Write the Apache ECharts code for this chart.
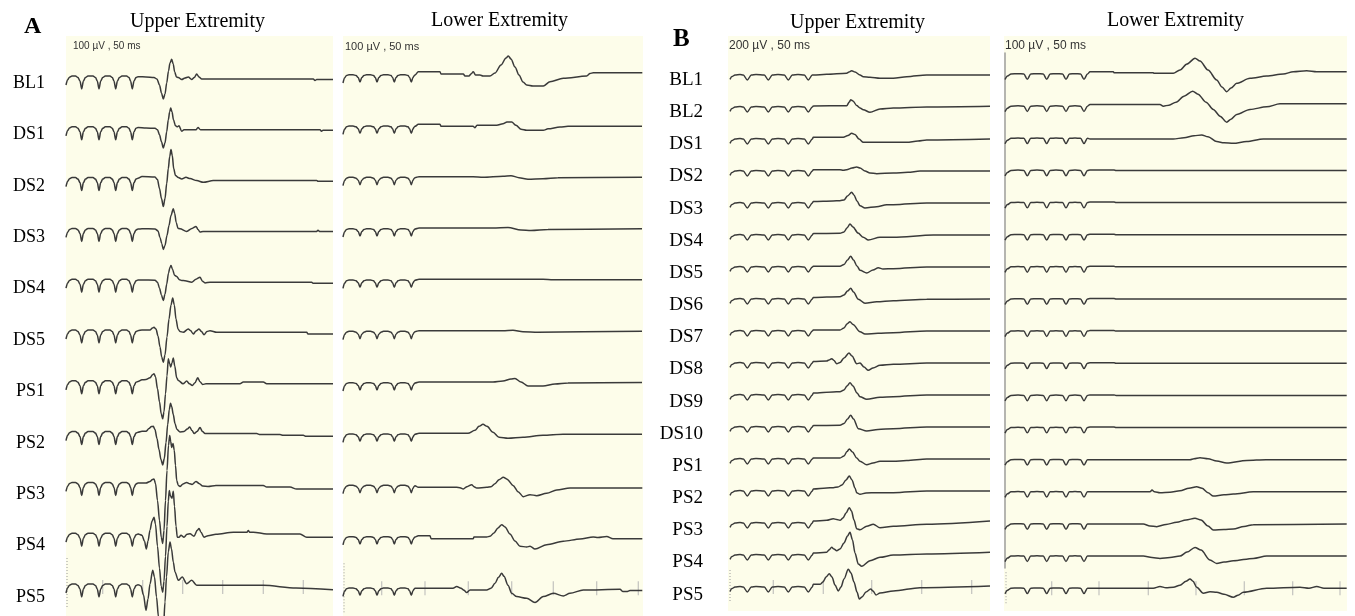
<!DOCTYPE html>
<html><head><meta charset="utf-8">
<script src="https://cdn.jsdelivr.net/npm/echarts@6/dist/echarts.min.js"></script>
<style>html,body{margin:0;padding:0;background:#fff}#c{width:1355px;height:616px}</style>
</head><body><div id="c"></div>
<script>
// ---------- DATA ----------
const labelsA = ['BL1','DS1','DS2','DS3','DS4','DS5','PS1','PS2','PS3','PS4','PS5'];
const labelsB = ['BL1','BL2','DS1','DS2','DS3','DS4','DS5','DS6','DS7','DS8','DS9','DS10','PS1','PS2','PS3','PS4','PS5'];
const panelLetters = ['A','B'];
const panelTitles = ['Upper Extremity','Lower Extremity','Upper Extremity','Lower Extremity'];
const scaleTexts = ['100 µV , 50 ms','100 µV , 50 ms','200 µV , 50 ms','100 µV , 50 ms'];

// stimulus artefact segments [time, amplitude]
const stimAU = [[0,-6],[1.5,-1],[3.5,1.8],[6,3],[9.5,3],[12,1.5],[14,-2],[15.7,-10],[17.4,-2],[19.4,1.5],[22,3],[27,3],[29.5,1.5],[31.3,-2],[33,-10],[34.7,-2],[36.7,1.5],[39.3,3],[44,3],[46.3,1.5],[48,-2],[49.7,-10],[51.4,-2],[53.4,1.5],[56,3],[60.6,3],[63,1.5],[64.6,-2],[66.3,-10],[68,-2],[70,1.5],[72,2.3]];
const stimAL = [[0,-8],[1.5,-3],[3.5,-0.5],[6,0.3],[10,0.3],[13,-0.5],[15.2,-2.5],[17,-7],[18.8,-2.5],[21,-0.5],[23.5,0.3],[27.5,0.3],[30.5,-0.5],[32.3,-2.5],[34,-7],[35.8,-2.5],[38,-0.5],[40.5,0.3],[45,0.3],[48,-0.5],[49.6,-2.5],[51.3,-7],[53,-2.5],[55,-0.5],[57.5,0.3],[62,0.3],[65,-0.5],[66.6,-2.5],[68.3,-7],[70,-2.5],[71,-1]];
const stimBU = [[2,-4.3],[4,-1.5],[7,0],[12,0.5],[15.3,0],[19.3,-5],[23.3,0],[28,0.5],[36.3,0],[40.3,-5],[44.3,0],[50,0.5],[56.3,0],[60.3,-5],[64.3,0],[70,0.5],[76.3,0],[80.3,-5],[84.3,0]];
const stimBL = [[1,-5.5],[3.5,-2],[7,0],[14,0.3],[19.8,0],[23.3,-5.3],[26.8,0],[33,0.3],[39.2,0],[42.7,-5.3],[46.2,0],[52,0.3],[58.5,0],[62,-5.3],[65.5,0],[71,0.3],[76.5,0],[80,-5.3],[83.5,0]];

// evoked responses, one list per row (order = labels)
const wavesAU = [
 [[73,2.3],[80,2],[88,1.5],[91,0],[93.5,-6],[95.5,-14],[97.3,-20],[99,-15],[100.7,-4],[102.5,8],[104,16],[105.7,19.7],[107.2,15],[108.7,7],[110.5,2],[112.3,1.5],[115.7,-0.5],[119,1],[122.3,2],[125.7,-0.5],[128.3,1.5],[130.7,5],[133,2],[135.7,0],[247.3,0],[249,-1.5],[250.7,-0.5],[267,-0.5]],
 [[80,1.7],[89,1.5],[91.5,0],[93.5,-5],[95.5,-12],[97.3,-18.3],[99,-13],[100.7,-2],[102.3,10],[103.7,18],[104.7,21.7],[106,18],[107.5,10],[109.5,4],[111.5,3],[113,4],[115.7,-1.5],[118,0],[130,0],[132,2.3],[134.5,0],[254,0],[255.5,-1.5],[257,-0.5],[267,-0.5]],
 [[76,4],[89,3.5],[91.5,1],[93.5,-8],[95.5,-18],[97.3,-26],[99,-18],[100.7,-3],[102.3,12],[103.7,24],[105,31],[106.3,25],[107.7,12],[109.5,5],[112.3,3],[115.7,1.7],[120,3.3],[124,2],[130.7,0],[137.3,-1.7],[147.3,0],[250.7,0],[252,-0.7],[267,-0.7]],
 [[76,2.7],[89,2.5],[92,0.5],[94,-6],[95.7,-12],[97.3,-18],[99,-14],[101,-4],[103,6],[105,16],[107.3,22.7],[108.7,18],[110.2,9],[112,3],[114,2.7],[120.7,0],[126,3],[130,5],[132,2],[134,-0.7],[137,0],[250.7,0],[252,1.2],[253.5,0],[267,0]],
 [[76,2.3],[89,2],[91.5,0],[93.5,-6],[95.5,-13],[97.3,-18.3],[99,-12],[100.7,-2],[102.5,9],[104,15],[105,16.7],[106.5,13],[108.5,7],[110.7,5.7],[113.5,2.5],[115.7,1.7],[119,1.5],[125.7,0],[130,3],[134,5],[136.5,1],[139,-0.7],[144,0],[245.7,0],[247,-1],[267,-1]],
 [[76,3],[84,3],[86.5,5],[88,5.7],[90,4],[92,-3],[94,-14],[95.7,-24],[97.3,-29.3],[99,-22],[101,-4],[103,14],[105,28],[106.7,35],[108.3,28],[110,14],[112,4],[114,1.5],[117.3,0.7],[122.3,4],[124.5,2.5],[127.3,-1],[130,2],[133,4],[135.5,1.5],[138,-1.7],[141,1.5],[144,2.3],[150.7,0.7],[240.7,0.7],[242,-1],[267,-1]],
 [[76,4],[80,4.3],[84,6],[86.5,9],[88,10],[89.5,7],[91.5,-5],[93.5,-18],[95.2,-30],[96.7,-35],[98,-28],[99.5,-10],[101,8],[102.3,25],[103.7,20],[104.7,16.7],[106,21],[107.3,25.7],[108.7,18],[110.7,6],[112.3,3.3],[117,0],[120.7,2.7],[123.5,0],[126.3,-1.7],[129,1],[131.7,6],[134,2],[136.7,-0.7],[140,0],[174,0],[177.3,1.7],[197.3,1.7],[200.7,0],[267,0]],
 [[76,3.3],[80,3.3],[83,6],[85.5,8],[87.3,8.3],[89,5],[91,-4],[93,-15],[95,-25],[96.7,-30.3],[98.3,-24],[100,-8],[101.7,10],[103.3,25],[104.5,31.3],[105.7,28],[107.3,20],[109,11],[111,5],[114,2.7],[118,3],[121.3,5.5],[123.7,7.7],[126,4],[128.3,1],[131,3],[134,7],[136.5,3],[139,1],[147.3,1],[190.7,1],[194,0],[214,0],[217.3,-0.7],[237.3,-0.7],[240,-1.7],[267,-1.7]],
 [[76,2.3],[80,2.3],[84,4],[86.5,6],[88,6.3],[89.5,2],[91.5,-15],[93.5,-35],[95.3,-52],[96.7,-58],[98,-45],[99.5,-15],[101,15],[102.5,40],[103.7,50],[104.7,44],[105.7,38],[107,42],[108.3,35],[109.5,20],[110.7,5],[112.3,0],[114,-1],[117,1.5],[120.7,3],[123.7,1.7],[126,1],[130,4],[133,2],[136.7,-0.7],[142,-1],[150,0],[197.3,0],[200.7,-1.7],[224,-1.7],[230.7,-3.7],[267,-3.7]],
 [[73,2],[76,1],[78.5,-5],[80.3,-12.7],[82,-5],[84,6],[86,15],[88,19],[89.5,12],[91.5,-10],[93.5,-32],[95.2,-50],[96.7,-56],[98,-45],[99.5,-20],[101,10],[102.3,35],[103.3,45.6],[104.5,40],[106,38],[107.3,45],[108.5,30],[110,10],[111.3,-1],[113,-1],[115,1],[118,-1],[121,2],[124,2.5],[128,0],[131.3,6],[133,7.7],[135,4],[138,-1],[142,0.5],[150,2],[167.3,4],[181,4],[182.3,5.7],[183.7,4],[187.3,4],[200.7,2.3],[234,2.3],[240.7,-1],[267,-1]],
 [[73,2],[75,1],[77.5,-8],[80,-23.3],[82,-12],[84,3],[86.7,16.7],[88.5,10],[90.5,-10],[92.5,-30],[94.5,-45],[96,-50],[97.5,-40],[99,-15],[100.5,10],[102.3,35],[104,45],[105.5,38],[107.3,25],[109,15],[112.3,6.7],[116.3,10],[120.7,3.3],[125.7,6.7],[130.7,1.7],[197.3,1.7],[230,-1],[267,-2.7]]
];
const wavesAL = [
 [[72,0],[75.3,3.3],[97,3.3],[98,1],[120.3,1],[122,-1],[126,-1],[128,1],[130.3,3.3],[132.5,0],[137,0],[140,-1],[147,-1],[152,2],[158,10],[163,17],[165.3,19],[168,16],[172,8],[176,0],[180,-7],[183.7,-10],[190,-11],[200.3,-11],[207,-6.7],[220.3,-3.3],[243.7,-1],[247,1.5],[250.3,2.3],[299.3,2.3]],
 [[72,0],[75.3,2],[97,2],[98,0],[130,0],[132,-1.3],[134,1],[153.7,1],[160,2.5],[164,4.3],[168.7,4.3],[173,1],[178,-3],[183.7,-4],[200.3,-4],[205,-2.5],[217,-0.7],[225,0],[299,0]],
 [[72,0],[76,1],[130,1],[140,0.5],[160,1.5],[168,2],[176,0],[185,-1.5],[200,-1],[215,0],[299,0.5]],
 [[72,0],[76,1],[150,1],[165,1.5],[178,-1],[188,-1.5],[205,-0.5],[299,0.3]],
 [[72,0],[76,1],[200,1],[210,0.5],[299,0.5]],
 [[72,0],[76,1],[160,1],[170,1.5],[180,0],[195,-0.5],[299,0.5]],
 [[72,0],[76,1],[150,1],[160,2],[168,4],[172,4.5],[178,1],[185,-3],[200,-3],[212,-1],[225,0],[299,0.5]],
 [[72,0],[76,1],[125,1],[132,4],[136,8],[140,10],[144,8],[150,2],[156,-3],[165,-4],[180,-3],[200,-1],[220,0],[299,0]],
 [[72,0],[75.3,-1.7],[113.7,-1.7],[117,-2],[120.3,-3.3],[124,-1],[128.7,1],[131,-1],[133.7,-2.3],[143.7,-1.7],[148,-1],[152,2],[156,6],[160.3,8.3],[164,6.5],[170.3,0],[175,-6],[180.3,-11],[187,-9],[193.7,-10],[203.7,-7.7],[213.7,-4.3],[227,-2.3],[299.3,-2.3]],
 [[72,0],[75.3,1.3],[87,1.3],[88,-1.7],[130.3,-1.7],[131,0],[143.7,0],[147,0.7],[151,4],[155,9],[158.7,12.3],[162,10],[167,3],[172,-4],[177,-9.3],[183.7,-10],[187,-9.3],[192,-12],[203.7,-7.7],[220.3,-4.3],[237,-2],[250.3,0],[255,-0.5],[263.7,0.5],[270,-1.7],[299.3,-1.7]],
 [[72,0],[110,0],[113.7,1.7],[118,0],[121,-2],[123.7,-4.3],[127,-1.7],[143.7,-1.7],[148,0],[152,5],[155.5,11],[158.7,15],[161,12],[165,3],[168.7,-5],[173.7,-8.3],[183.7,-10],[192,-14.3],[200.3,-8.3],[210.3,-5],[220.3,-7.7],[227,-5],[240.3,-1.7],[277,-1],[280,-3.3],[283.7,-3.3],[287,-2.3],[299.3,-2.3]]
];
const wavesBU = [
 [[85.3,0],[98.7,0.7],[118.7,1.7],[121,3],[123.7,4.3],[127,3],[132,0],[135.3,-1.7],[142,-2.3],[152,-3.3],[165.3,-3.3],[178.7,-1.7],[198.7,0],[262,0]],
 [[85.3,1],[118.7,1.3],[121.3,5],[122.7,7.3],[125,6],[128.7,1.5],[132,-1],[135.3,-2.7],[142,-5.3],[152,-2],[165.3,-1],[198.7,0],[262,0.7]],
 [[85.3,1.7],[115.3,1.7],[120,3.5],[123.7,5.7],[127,4.5],[131,0],[135.3,-3.3],[145.3,-3.3],[178.7,-3.3],[190,-2],[198.7,-1],[262,0]],
 [[85.3,1.3],[112,1.3],[115.3,0.7],[118.7,1.3],[124,3],[128.7,4],[132,3],[137,0],[142,-2],[148.7,-2.7],[165.3,-2],[180,-1.3],[192,0],[262,0]],
 [[85.3,1.5],[105,2],[112,2.3],[116,3],[119.5,7],[123.7,10.7],[126,8],[129,2],[132,-2.7],[137,-5],[148.7,-3.7],[158.7,-1.7],[165.3,-1.7],[198.7,0],[262,0]],
 [[85.3,1.5],[112,1.7],[116,3],[119,7],[122,11],[125,8],[130,2],[135.3,-2.3],[140.3,-5],[152,-2.3],[165.3,-2.3],[205.3,0],[262,0]],
 [[85.3,0.7],[112,0.7],[116,2.5],[119.5,7],[122.7,10.7],[125.5,7],[129,1],[132,-3.3],[138.7,-6],[145,-3],[150.3,-0.7],[155,-2],[165.3,-1.7],[198.7,0],[262,0]],
 [[85.3,1.5],[112,2.3],[116,4],[119.5,8],[122.7,10.7],[125.5,7],[130.3,-0.3],[137,-4.3],[148.7,-2.7],[165.3,-1.7],[198.7,-0.3],[262,0]],
 [[85.3,1],[112,1],[116,3],[119,7],[122,9.3],[125,6.5],[132,-0.7],[137,-3],[150,-2.3],[165.3,-1.7],[198.7,0],[262,0]],
 [[85.3,1.5],[98.7,2],[101,3],[103.7,4.3],[106,2.5],[108.7,-0.7],[112,0.5],[116,5],[121,10],[124,7],[128.7,-0.7],[132,0],[136,-4],[140.3,-7.3],[145,-5],[152,-2.3],[165.3,-1.3],[198.7,0],[262,0]],
 [[85.3,2],[105,3],[112,3.3],[116,5],[119,9],[122,12.3],[125,9],[129,2],[132,-1.7],[138.7,-4.3],[152,-2.3],[165.3,-1.7],[198.7,0],[262,0]],
 [[85.3,1.5],[112,1.7],[116,3.5],[119.5,8],[122.7,11.7],[125.5,8],[130.3,-1.7],[138.7,-4],[150,-2.5],[165.3,-1.7],[198.7,0],[262,0]],
 [[85.3,1],[112,1],[116,3],[119,7.5],[121.3,10],[124.5,7],[128.7,1],[132,-2.3],[138.7,-5.7],[145,-4],[152,-2.3],[165.3,-2.3],[178.7,-1.5],[198.7,0],[262,0]],
 [[85.3,2],[98.7,3],[105.3,3.3],[110,4],[114,6],[118,11],[121.3,15],[124,11],[127,3],[128.7,-1.7],[132,-3.3],[138,-2],[148.7,-1.7],[165.3,-1.7],[198.7,0],[262,0]],
 [[85.3,2],[98.7,2.7],[105.3,4.3],[108.7,3.5],[112,2.7],[115,5],[118,10],[121.3,15.3],[123.5,12],[126,3],[128.7,-5.7],[132,-6.7],[138.7,-3.3],[145.3,-1.3],[152,-4.7],[165.3,-3.3],[198.7,-1.3],[262,2]],
 [[85.3,2],[98.7,2.7],[101,5],[103.7,7.7],[106,6],[108.7,4.3],[112,6],[116,12],[119.5,19],[122,22.7],[124.5,15],[127,2],[130.3,-9],[133.7,-11.3],[142,-5.7],[152,-2.3],[165.3,0],[198.7,1],[262,2.7]],
 [[85.3,2.7],[92,2.7],[95,5],[98,10],[101.3,13.3],[104,10],[107,2],[110.3,-4],[113,0],[116,8],[120.3,17.7],[123,14],[126,5],[129,-5],[131.3,-12],[134,-10],[138,-5],[142.7,-2],[145,-4],[148,-8],[152,-6],[165.3,-4],[192,-0.7],[262,1]]
];
const wavesBL = [
 [[86,2.3],[109.3,2.3],[110,1.3],[149.3,1.3],[150,0.7],[169.3,0.7],[176,4],[183,10],[191,15.7],[196,13],[204,4],[212.7,-6],[218,-13],[222.7,-17.7],[227,-14],[232.7,-9.3],[246,-4.3],[262.7,-2],[279.3,0],[289.3,2.3],[302.7,3.3],[312.7,2.3],[342.7,2.3]],
 [[86,1.7],[156,1.7],[159.3,0],[165,1],[172,4],[180,10],[188.7,15],[194,12],[202,4],[209.3,-3.3],[216,-10],[222.7,-16],[227,-13],[232.7,-8.3],[246,-3.3],[262.7,-0.7],[276,2.3],[342.7,2.3]],
 [[86,-0.7],[169.3,-0.7],[180,0.5],[190,2.5],[197.7,3.3],[204,1.5],[212.7,-3.3],[220,-4.5],[229.3,-5],[242.7,-3.3],[259.3,-0.7],[342.7,-0.7]],
 [[86,0.5],[110,0.5],[112,0],[342.7,0]],
 [[86,0.5],[110,0.5],[112,0],[342.7,0]],
 [[86,0.5],[110,0.5],[112,0],[342.7,0]],
 [[86,0.5],[110,0.5],[112,0],[342.7,0]],
 [[86,0.5],[110,0.5],[112,0],[342.7,0]],
 [[86,0.5],[110,0.5],[112,0],[342.7,0]],
 [[86,0.5],[110,0.5],[112,0],[342.7,0]],
 [[86,0.5],[110,0.5],[112,0],[342.7,0]],
 [[86,0.5],[110,0.5],[112,0],[342.7,0]],
 [[86,0],[186,0],[190,1],[196,2],[204,1],[212.7,-1.3],[222.7,-3.3],[242.7,-0.7],[262,0],[342.7,0]],
 [[86,0],[146,0],[148,1.7],[150.5,0],[156,-1],[166,-0.5],[176,1],[185,3.5],[192.7,5],[198,3.5],[204,-1],[209.3,-4.3],[220,-3],[229.3,-2.3],[249.3,0],[342.7,0]],
 [[86,0],[139.3,0],[146,-2],[152.7,-2.7],[162,-0.5],[172.7,1.7],[182,4],[191,5.7],[197,4],[204,-2],[209.3,-6],[220,-5.5],[229.3,-5],[240,-2.5],[249.3,-0.7],[342.7,0]],
 [[86,0],[139.3,0],[148,-1.5],[156,-2.3],[166,-1.5],[176,0],[183,4],[191,8.7],[197,6],[206,-4],[212.7,-7.3],[220,-6],[229.3,-4.7],[249.3,-2.3],[262.7,0],[342.7,0]],
 [[86,0],[149.3,0],[156,1.7],[162,0.5],[169.3,1],[176,3],[182,7],[186,9.3],[189,7],[192.7,1],[199.3,-5],[206,-3.5],[212.7,-4],[220,-6],[229.3,-9],[234,-7],[239.3,-4],[262.7,0],[296,1],[305,0],[312.7,1.7],[320,0],[342.7,0]]
];

// cursor tick marks on the last row, and the dotted calibration marks
const ticksAU = [36.7, 76.7, 116.7, 156.7, 197.3, 237.3];
const ticksAL = [38.7, 82, 125.3, 168.7, 210.3, 253.7, 295.3];
const ticksBU = [45.3, 95.3, 143.7, 193.7, 243.7];
const ticksBL = [47.7, 95, 144.3, 192, 240.3, 288.7, 336];
const calibAU = [[1,29],[1,-20]];
const calibAL = [[1,25],[1,-25]];
const calibBU = [[2,17],[2,-16]];
const calibBL = [[2,16],[2,-15]];

// ---------- LAYOUT ----------
const BG = '#fdfdea', INK = '#3a3a3a';
const panels = [
 {labels:labelsA, stim:stimAU, waves:wavesAU, ticks:ticksAU, calib:calibAU, left:66, width:267, top:36, bottomPx:616, b0:79, step:50.8, showLabels:true, lab0:83, labStep:51.4, labSize:18, labMargin:21},
 {labels:labelsA, stim:stimAL, waves:wavesAL, ticks:ticksAL, calib:calibAL, left:343, width:300, top:36, bottomPx:616, b0:75, step:51.33, showLabels:false},
 {labels:labelsB, stim:stimBU, waves:wavesBU, ticks:ticksBU, calib:calibBU, left:728, width:262, top:36, bottomPx:611, b0:75, step:32, showLabels:true, lab0:80, labStep:32.16, labSize:19, labMargin:25},
 {labels:labelsB, stim:stimBL, waves:wavesBL, ticks:ticksBL, calib:calibBL, left:1004, width:343, top:36, bottomPx:611, b0:74, step:32.14, showLabels:false}
];

const grids = [], xAxes = [], yAxes = [], series = [];
panels.forEach((p, gi) => {
  const N = p.labels.length;
  const bLast = p.b0 + p.step * (N - 1);
  grids.push({left:p.left, top:p.top, width:p.width, height:p.bottomPx - p.top, show:true, backgroundColor:BG, borderWidth:0, containLabel:false, outerBoundsMode:'none'});
  xAxes.push({type:'value', gridIndex:gi, min:0, max:p.width, show:false});
  const labVals = p.showLabels ? p.labels.map((_, i) => +(bLast - (p.lab0 + p.labStep * i)).toFixed(3)) : [];
  yAxes.push({
    type:'value', gridIndex:gi, min:-(p.bottomPx - bLast), max:bLast - p.top,
    axisLine:{show:false}, axisTick:{show:false}, splitLine:{show:false},
    axisLabel:{
      show:p.showLabels, customValues:labVals,
      formatter:(v) => { const k = labVals.findIndex(x => Math.abs(x - v) < 0.01); return k >= 0 ? p.labels[k] : ''; },
      fontFamily:'Liberation Serif', fontSize:p.labSize || 18, color:'#000', margin:p.labMargin || 20
    }
  });
  p.waves.forEach((w, i) => {
    const off = (N - 1 - i) * p.step;
    series.push({
      type:'line', name:p.labels[i], xAxisIndex:gi, yAxisIndex:gi,
      data:p.stim.concat(w).map(([t, v]) => [t, off + v]),
      symbol:'none', showSymbol:false, smooth:0.3, smoothMonotone:'x', clip:false, silent:true,
      lineStyle:{color:INK, width:1.5}, z:3, animation:false
    });
  });
  series.push({
    type:'scatter', xAxisIndex:gi, yAxisIndex:gi, data:p.ticks.map(t => [t, 0]),
    symbol:'rect', symbolSize:[1.2, 14], itemStyle:{color:'#b4b4b4'}, silent:true, z:2, animation:false
  });
  series.push({
    type:'line', xAxisIndex:gi, yAxisIndex:gi, data:p.calib, symbol:'none', silent:true,
    lineStyle:{color:'#9a9a9a', width:1, type:[1,2]}, z:2, animation:false
  });
});
// vertical rule at the left of the B lower-extremity panel
grids.push({left:1004.5, top:53, width:1, height:515, show:false, outerBoundsMode:'none'});
xAxes.push({type:'value', gridIndex:4, min:0, max:1, show:false});
yAxes.push({type:'value', gridIndex:4, min:0, max:1, axisLine:{show:true, lineStyle:{color:'#9c9c9c', width:1.5}}, axisTick:{show:false}, axisLabel:{show:false}, splitLine:{show:false}});

const serif = 'Liberation Serif', sans = 'Liberation Sans';
const graphic = [
  {type:'text', x:24, y:27, style:{text:panelLetters[0], fontFamily:serif, fontWeight:'bold', fontSize:24, fill:'#000', verticalAlign:'middle'}},
  {type:'text', x:673, y:39.5, style:{text:panelLetters[1], fontFamily:serif, fontWeight:'bold', fontSize:25, fill:'#000', verticalAlign:'middle'}},
  {type:'text', x:197.5, y:21.5, style:{text:panelTitles[0], fontFamily:serif, fontSize:20, fill:'#000', align:'center', verticalAlign:'middle'}},
  {type:'text', x:499.5, y:21, style:{text:panelTitles[1], fontFamily:serif, fontSize:20, fill:'#000', align:'center', verticalAlign:'middle'}},
  {type:'text', x:857.5, y:22.5, style:{text:panelTitles[2], fontFamily:serif, fontSize:20, fill:'#000', align:'center', verticalAlign:'middle'}},
  {type:'text', x:1175.5, y:21, style:{text:panelTitles[3], fontFamily:serif, fontSize:20, fill:'#000', align:'center', verticalAlign:'middle'}},
  {type:'text', x:73, y:46.5, z:10, style:{text:scaleTexts[0], fontFamily:sans, fontSize:10, fill:'#333', verticalAlign:'middle'}},
  {type:'text', x:345, y:47, z:10, style:{text:scaleTexts[1], fontFamily:sans, fontSize:11, fill:'#333', verticalAlign:'middle'}},
  {type:'text', x:729, y:46, z:10, style:{text:scaleTexts[2], fontFamily:sans, fontSize:12, fill:'#333', verticalAlign:'middle'}},
  {type:'text', x:1005, y:45.5, z:10, style:{text:scaleTexts[3], fontFamily:sans, fontSize:12, fill:'#333', verticalAlign:'middle'}}
];

const chart = echarts.init(document.getElementById('c'), null, {renderer:'canvas'});
chart.setOption({
  animation:false, backgroundColor:'#fff',
  grid:grids, xAxis:xAxes, yAxis:yAxes, series:series, graphic:graphic
});
</script>
</body></html>
